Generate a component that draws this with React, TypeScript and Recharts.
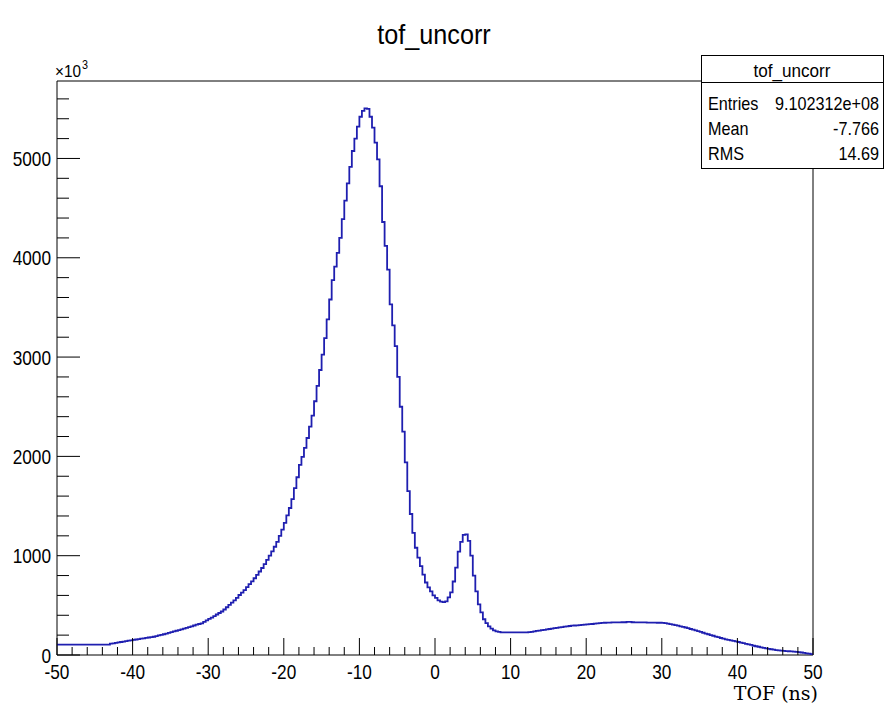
import React from "react";
import { LineChart, Line, XAxis, YAxis, ReferenceArea } from "recharts";

// Histogram: tof_uncorr, 300 bins of 1/3 ns from -50 to 50 (values in units of 10^3 entries)
const BIN_LOW = -50;
const BIN_WIDTH = 1 / 3;
const X_MAX = 50;
const Y_MAX = 5780;

const counts: number[] = [
  // -50 .. -43
  105, 105, 105, 105, 105, 105, 105, 105, 105, 105, 105,
  105, 105, 105, 105, 105, 105, 105, 105, 105, 105,
  // -43 .. -33
  114, 118, 122, 127, 131, 135, 139, 144, 148, 153, 156, 160, 164, 168, 172,
  176, 180, 184, 191, 197, 203, 209, 216, 223, 230, 237, 244, 251, 258, 265,
  // -33 .. -23
  273, 280, 288, 297, 305, 312, 319, 333, 348, 363, 377, 392, 408, 423, 438,
  458, 481, 504, 528, 551, 575, 604, 629, 654, 684, 713, 741, 773, 807, 841,
  // -23 .. -13
  876, 915, 957, 1000, 1044, 1090, 1140, 1200, 1262, 1330, 1405, 1480, 1570, 1680, 1790,
  1915, 1995, 2085, 2185, 2300, 2410, 2555, 2710, 2870, 3025, 3190, 3380, 3580, 3775, 3910,
  // -13 .. -3
  4050, 4200, 4390, 4575, 4750, 4915, 5075, 5200, 5320, 5420, 5480, 5505, 5500, 5420, 5310,
  5160, 4990, 4720, 4360, 4120, 3880, 3530, 3320, 3110, 2800, 2500, 2250, 1940, 1650, 1420,
  // -3 .. 7
  1230, 1080, 980, 895, 810, 730, 680, 640, 600, 575, 550, 537, 532, 540, 580,
  630, 740, 880, 1040, 1140, 1210, 1215, 1150, 1000, 800, 640, 510, 430, 360, 320,
  // 7 .. 17
  288, 265, 248, 238, 232, 228, 228, 228, 228, 228, 228, 228, 228, 228, 228,
  228, 230, 232, 238, 242, 246, 250, 254, 258, 262, 266, 270, 274, 278, 281,
  // 17 .. 27
  285, 289, 292, 295, 297, 299, 301, 303, 306, 308, 310, 312, 315, 318, 320,
  323, 325, 326, 327, 328, 328, 329, 329, 330, 330, 333, 333, 330, 329, 329,
  // 27 .. 37
  329, 328, 328, 327, 327, 326, 326, 325, 325, 323, 320, 316, 311, 306, 301,
  295, 289, 283, 277, 270, 262, 255, 247, 240, 232, 224, 216, 209, 201, 194,
  // 37 .. 47
  186, 179, 171, 164, 158, 153, 147, 142, 137, 131, 125, 119, 113, 107, 101,
  93, 88, 83, 77, 72, 67, 62, 58, 54, 50, 47, 44, 42, 40, 38,
  // 47 .. 50
  36, 34, 32, 29, 25, 21, 17, 13, 9,
];

const xTicks: number[] = [
  -50, -48, -46, -44, -42, -40, -38, -36, -34, -32, -30, -28, -26, -24, -22, -20,
  -18, -16, -14, -12, -10, -8, -6, -4, -2, 0, 2, 4, 6, 8, 10, 12, 14, 16, 18, 20,
  22, 24, 26, 28, 30, 32, 34, 36, 38, 40, 42, 44, 46, 48, 50,
];
const yTicks: number[] = [
  0, 200, 400, 600, 800, 1000, 1200, 1400, 1600, 1800, 2000, 2200, 2400, 2600, 2800,
  3000, 3200, 3400, 3600, 3800, 4000, 4200, 4400, 4600, 4800, 5000, 5200, 5400, 5600,
];

const title = "tof_uncorr";
const xLabel = "TOF (ns)";
const statsRows: [string, string][] = [
  ["Entries", "9.102312e+08"],
  ["Mean", "-7.766"],
  ["RMS", "14.69"],
];

const data = [
  ...counts.map((c, i) => ({ x: BIN_LOW + i * BIN_WIDTH, v: c })),
  { x: X_MAX, v: counts[counts.length - 1] },
];

const SANS = "'Liberation Sans', Arial, Helvetica, sans-serif";

const NarrowText = ({ x, y, anchor, size, sx, children }: any) => (
  <text
    transform={`translate(${x} ${y}) scale(${sx} 1)`}
    x={0}
    y={0}
    textAnchor={anchor}
    fontSize={size}
    fontFamily={SANS}
    fill="#000"
  >
    {children}
  </text>
);

const XTick = (props: any) => {
  const { x, y, payload } = props;
  const major = Math.abs(payload.value % 10) < 1e-9;
  return (
    <g>
      <line x1={x} x2={x} y1={y} y2={y - (major ? 17 : 8)} stroke="#000" strokeWidth={1} />
      {major && (
        <NarrowText x={x} y={y + 24} anchor="middle" size={21} sx={0.82}>
          {payload.value}
        </NarrowText>
      )}
    </g>
  );
};

const YTick = (props: any) => {
  const { x, y, payload } = props;
  const major = payload.value % 1000 === 0;
  return (
    <g>
      <line x1={x} x2={x + (major ? 23 : 12)} y1={y} y2={y} stroke="#000" strokeWidth={1} />
      {major && (
        <NarrowText x={x - 6} y={y + 7.5} anchor="end" size={21} sx={0.82}>
          {payload.value}
        </NarrowText>
      )}
    </g>
  );
};

export default function App() {
  return (
    <div style={{ position: "absolute", left: 0, top: 0, width: 889, height: 712, background: "#fff" }}>
      <LineChart
        width={889}
        height={712}
        data={data}
        margin={{ top: 81, right: 76, bottom: 0, left: 0 }}
      >
        <XAxis
          type="number"
          dataKey="x"
          domain={[BIN_LOW, X_MAX]}
          ticks={xTicks}
          interval={0}
          height={57}
          tickSize={0}
          tickMargin={0}
          axisLine={false}
          tickLine={false}
          tick={(p: any) => <XTick {...p} />}
        />
        <YAxis
          type="number"
          domain={[0, Y_MAX]}
          ticks={yTicks}
          interval={0}
          width={57}
          tickSize={0}
          tickMargin={0}
          axisLine={false}
          tickLine={false}
          tick={(p: any) => <YTick {...p} />}
        />
        <Line
          type="stepAfter"
          dataKey="v"
          stroke="#1f1fb0"
          strokeWidth={1.8}
          dot={false}
          activeDot={false}
          isAnimationActive={false}
        />
        <ReferenceArea
          x1={BIN_LOW}
          x2={X_MAX}
          y1={0}
          y2={Y_MAX}
          stroke="#000"
          strokeWidth={1}
          fill="none"
          fillOpacity={0}
          ifOverflow="visible"
        />
      </LineChart>
      <svg
        width={889}
        height={712}
        style={{ position: "absolute", left: 0, top: 0, pointerEvents: "none" }}
      >
        <NarrowText x={434} y={44} anchor="middle" size={28} sx={0.9}>
          {title}
        </NarrowText>
        <NarrowText x={55} y={77} anchor="start" size={17} sx={0.9}>
          ×10
        </NarrowText>
        <NarrowText x={82} y={69} anchor="start" size={12} sx={0.9}>
          3
        </NarrowText>
        <text x={818} y={700} textAnchor="end" fontSize={19} fontFamily="'DejaVu Serif', 'Liberation Serif', serif" fill="#000">
          {xLabel}
        </text>
        <rect x={701.5} y={55.5} width={182} height={113} fill="#fff" stroke="#000" strokeWidth={1} />
        <line x1={701.5} x2={883.5} y1={82.5} y2={82.5} stroke="#000" strokeWidth={1} />
        <NarrowText x={792} y={77} anchor="middle" size={19} sx={0.9}>
          {title}
        </NarrowText>
        {statsRows.map((r, i) => (
          <g key={r[0]}>
            <NarrowText x={708} y={110 + i * 25} anchor="start" size={18} sx={0.9}>
              {r[0]}
            </NarrowText>
            <NarrowText x={879} y={110 + i * 25} anchor="end" size={18} sx={0.9}>
              {r[1]}
            </NarrowText>
          </g>
        ))}
      </svg>
    </div>
  );
}
